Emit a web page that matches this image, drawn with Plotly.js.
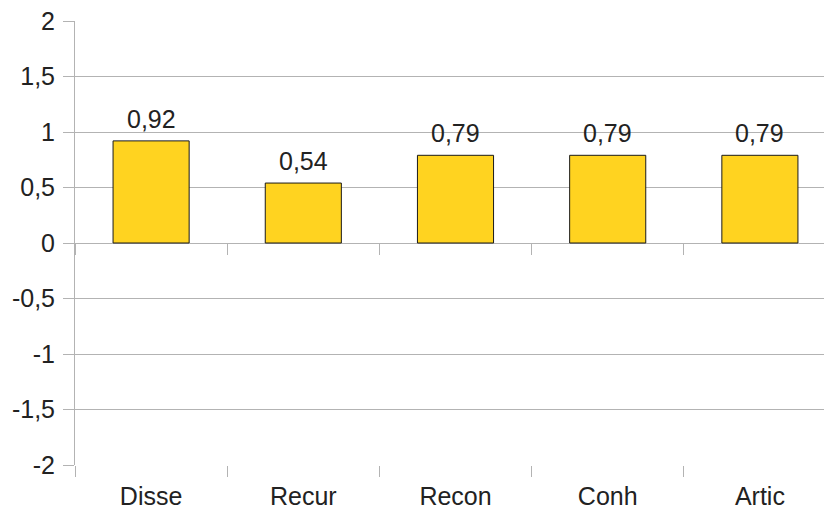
<!DOCTYPE html>
<html>
<head>
<meta charset="utf-8">
<script src="https://cdn.plot.ly/plotly-3.0.1.min.js"></script>
<style>html,body{margin:0;padding:0;background:#fff;overflow:hidden;width:824px;height:510px;}#chart{width:836px;height:510px;}</style>
</head>
<body>
<div id="chart"></div>
<script>
const categories = ["Disse", "Recur", "Recon", "Conh", "Artic"];
const values = [0.92, 0.54, 0.79, 0.79, 0.79];
const valueLabels = ["0,92", "0,54", "0,79", "0,79", "0,79"];
const yTickVals = [-2, -1.5, -1, -0.5, 0, 0.5, 1, 1.5, 2];
const yTickText = ["-2", "-1,5", "-1", "-0,5", "0", "0,5", "1", "1,5", "2"];

const gridColor = "#b3b3b3";
const textColor = "#222222";
const fontFamily = "Liberation Sans, Arial, sans-serif";

const traces = [
  {
    type: "bar",
    x: categories,
    y: values,
    width: 0.5,
    marker: {color: "#FFD320", line: {color: "#1a1a1a", width: 1}},
    hoverinfo: "none"
  },
  {
    type: "bar",
    x: categories,
    y: [0, 0, 0, 0, 0],
    xaxis: "x2",
    yaxis: "y",
    showlegend: false,
    hoverinfo: "none",
    marker: {color: "rgba(0,0,0,0)"}
  }
];

const annotations = categories.map((c, i) => ({
  x: c,
  y: values[i],
  xref: "x",
  yref: "y",
  text: valueLabels[i],
  showarrow: false,
  yanchor: "bottom",
  yshift: 6,
  font: {family: fontFamily, size: 25, color: textColor}
}));

const layout = {
  width: 836,
  height: 510,
  margin: {l: 75, r: 0, t: 21, b: 45},
  paper_bgcolor: "#ffffff",
  plot_bgcolor: "#ffffff",
  separators: ",.",
  showlegend: false,
  font: {family: fontFamily, size: 25, color: textColor},
  annotations: annotations,
  xaxis: {
    type: "category",
    range: [-0.5, 4.5],
    tickson: "boundaries",
    ticks: "outside",
    ticklen: 11,
    tickcolor: gridColor,
    tickwidth: 1,
    showgrid: false,
    showline: false,
    zeroline: false,
    ticklabelstandoff: 14,
    tickfont: {family: fontFamily, size: 25, color: textColor},
    fixedrange: true
  },
  xaxis2: {
    type: "category",
    overlaying: "x",
    anchor: "free",
    position: 0.5,
    side: "bottom",
    range: [-0.5, 4.5],
    tickson: "boundaries",
    ticks: "outside",
    ticklen: 11,
    tickcolor: gridColor,
    tickwidth: 1,
    showticklabels: false,
    showgrid: false,
    showline: false,
    zeroline: false
  },
  yaxis: {
    range: [-2, 2],
    tickmode: "array",
    tickvals: yTickVals,
    ticktext: yTickText,
    ticks: "outside",
    ticklen: 11,
    tickcolor: gridColor,
    showgrid: true,
    gridcolor: gridColor,
    gridwidth: 1,
    zeroline: true,
    zerolinecolor: gridColor,
    zerolinewidth: 1,
    showline: true,
    linecolor: gridColor,
    linewidth: 1,
    ticklabelstandoff: 3,
    tickfont: {family: fontFamily, size: 25, color: textColor},
    fixedrange: true
  },
  bargap: 0.5
};

Plotly.newPlot("chart", traces, layout, {displayModeBar: false, staticPlot: true});
</script>
</body>
</html>
